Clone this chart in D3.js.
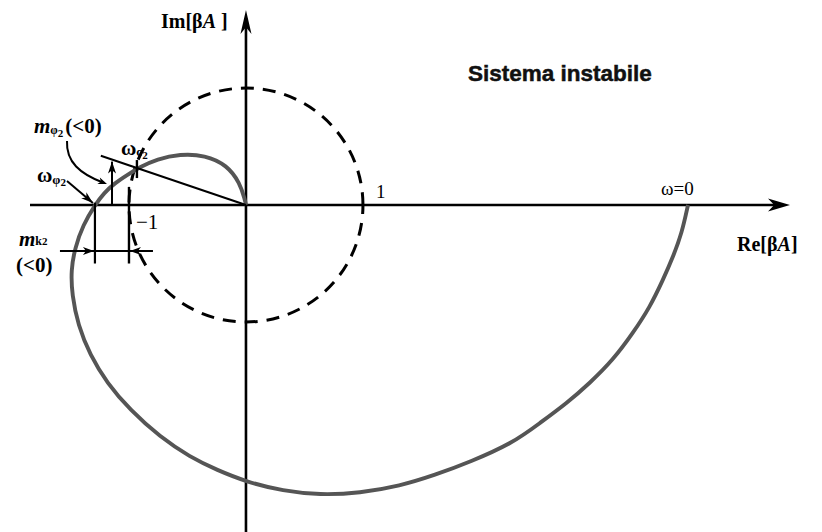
<!DOCTYPE html>
<html>
<head>
<meta charset="utf-8">
<script src="https://cdn.jsdelivr.net/npm/d3@7"></script>
<style>
  html, body { margin: 0; padding: 0; background: #fff; }
  svg { display: block; }
  .serif { font-family: "Liberation Serif", "Times New Roman", serif; font-weight: bold; fill: #000; }
</style>
</head>
<body>
<svg id="chart" width="822" height="532"></svg>
<script>
// Nyquist locus of βA(jω) for an unstable loop, in units of |βA|
const curveRe = [3.778, 3.726, 3.650, 3.564, 3.453, 3.308, 3.137, 2.940, 2.744, 2.513, 2.282, 1.915, 1.615, 1.316,
                 0.974, 0.632, 0.316, 0.009, -0.248, -0.479, -0.735, -0.991, -1.188, -1.333, -1.436, -1.487,
                 -1.496, -1.462, -1.393, -1.291, -1.214, -1.120, -1.017, -0.906, -0.761, -0.564, -0.350, -0.162,
                 -0.051, -0.009, 0.000];
const curveIm = [0.000, -0.239, -0.444, -0.641, -0.872, -1.094, -1.325, -1.521, -1.692, -1.863, -2.034, -2.197, -2.308, -2.402,
                 -2.462, -2.479, -2.444, -2.368, -2.265, -2.154, -1.983, -1.752, -1.521, -1.282, -1.026, -0.769,
                 -0.556, -0.368, -0.171, 0.000, 0.103, 0.188, 0.256, 0.325, 0.393, 0.436, 0.427, 0.342,
                 0.188, 0.043, 0.000];

// Unit circle |βA| = 1
const unitRadius = 1;

// Crossing points used by the margin construction
const omegaC2 = { re: -0.932, im: 0.316 };     // |βA| = 1 crossing
const omegaPhi2 = { re: -1.291, im: 0 };       // real-axis crossing
const minusOne = { re: -1, im: 0 };
const phaseLineRadius = 1.31;
const phaseArrowRe = -1.145;
const gainBarIm = -0.393;
const gainBarRe = [-1.59, -0.795];
const verticalSpanIm = { phi: [0.02, -0.5], one: [0.155, -0.5] };

// Axis extents
const reDomain = [-1.846, 4.65];
const imDomain = [1.667, -2.795];

const svg = d3.select("#chart");
const x = d3.scaleLinear().domain(reDomain).range([30, 790]);
const y = d3.scaleLinear().domain(imDomain).range([10, 532]);

// filled arrowhead with a notched back, tip at (tx, ty), pointing along angle a
function arrowHead(tx, ty, a, len, wid, fill) {
  const c = Math.cos(a), s = Math.sin(a);
  const pt = (u, v) => [tx + u * c - v * s, ty + u * s + v * c];
  const pts = [pt(0, 0), pt(-len, -wid / 2), pt(-len * 0.72, 0), pt(-len, wid / 2)];
  svg.append("path").attr("d", "M" + pts.map(p => p.join(",")).join("L") + "Z")
     .attr("fill", fill || "#000");
}
function arrowLine(x1, y1, x2, y2, w, len, wid) {
  svg.append("line").attr("x1", x1).attr("y1", y1).attr("x2", x2).attr("y2", y2)
     .attr("stroke", "#000").attr("stroke-width", w);
  arrowHead(x2, y2, Math.atan2(y2 - y1, x2 - x1), len, wid);
}

// axes
svg.append("line").attr("x1", x(reDomain[0])).attr("x2", x(reDomain[1]) - 8)
   .attr("y1", y(0)).attr("y2", y(0)).attr("stroke", "#000").attr("stroke-width", 2.6);
arrowHead(x(reDomain[1]), y(0), 0, 22, 13);
svg.append("line").attr("x1", x(0)).attr("x2", x(0))
   .attr("y1", y(imDomain[1])).attr("y2", y(imDomain[0]) + 8).attr("stroke", "#000").attr("stroke-width", 2.6);
arrowHead(x(0), y(imDomain[0]), -Math.PI / 2, 24, 11);

// unit circle, dashed
const rPix = x(unitRadius) - x(0);
svg.append("circle").attr("cx", x(0)).attr("cy", y(0)).attr("r", rPix)
   .attr("fill", "none").attr("stroke", "#000").attr("stroke-width", 3)
   .attr("stroke-dasharray", "13 9").attr("stroke-dashoffset", 4);

// Nyquist locus
const pts = curveRe.map((r, i) => [r, curveIm[i]]);
const line = d3.line().x(d => x(d[0])).y(d => y(d[1])).curve(d3.curveBasis);
svg.append("path").attr("d", line(pts)).attr("fill", "none")
   .attr("stroke", "#555").attr("stroke-width", 3.9).attr("stroke-linejoin", "round");

// phase line from origin through the ωc2 crossing
const ang = Math.atan2(omegaC2.im, omegaC2.re);
svg.append("line").attr("x1", x(0)).attr("y1", y(0))
   .attr("x2", x(phaseLineRadius * Math.cos(ang))).attr("y2", y(phaseLineRadius * Math.sin(ang)))
   .attr("stroke", "#000").attr("stroke-width", 2);
// tick on the ωc2 crossing
svg.append("line").attr("x1", x(omegaC2.re)).attr("x2", x(omegaC2.re))
   .attr("y1", y(omegaC2.im) - 8).attr("y2", y(omegaC2.im) + 10)
   .attr("stroke", "#000").attr("stroke-width", 2.4);

// phase-margin arrow
const phaseTopIm = -phaseArrowRe * Math.tan(Math.PI - ang);
arrowLine(x(phaseArrowRe), y(0), x(phaseArrowRe), y(phaseTopIm) + 2, 2, 12, 8);

// gain-margin construction
svg.append("line").attr("x1", x(omegaPhi2.re)).attr("x2", x(omegaPhi2.re))
   .attr("y1", y(verticalSpanIm.phi[0])).attr("y2", y(verticalSpanIm.phi[1]))
   .attr("stroke", "#000").attr("stroke-width", 2.2);
svg.append("line").attr("x1", x(minusOne.re)).attr("x2", x(minusOne.re))
   .attr("y1", y(verticalSpanIm.one[0])).attr("y2", y(verticalSpanIm.one[1]))
   .attr("stroke", "#000").attr("stroke-width", 2.4);
svg.append("line").attr("x1", x(gainBarRe[0])).attr("x2", x(gainBarRe[1]))
   .attr("y1", y(gainBarIm)).attr("y2", y(gainBarIm))
   .attr("stroke", "#000").attr("stroke-width", 2.2);
arrowHead(x(omegaPhi2.re) - 1, y(gainBarIm), 0, 11, 8);
arrowHead(x(minusOne.re) + 1, y(gainBarIm), Math.PI, 11, 8);

// pointer from ωφ2 label to the real-axis crossing
arrowLine(67, 181, x(omegaPhi2.re) - 2, y(omegaPhi2.im) - 2, 2, 12, 8);

// curved pointer from the mφ2 label
const curvy = d3.path();
curvy.moveTo(67, 141);
curvy.bezierCurveTo(66, 162, 80, 174, 104, 183);
svg.append("path").attr("d", curvy.toString()).attr("fill", "none")
   .attr("stroke", "#000").attr("stroke-width", 2);
arrowHead(107, 184, Math.atan2(9, 24), 9, 7);

// texts
function label(tx, ty, size, parts, opts) {
  const t = svg.append("text").attr("class", "serif").attr("x", tx).attr("y", ty)
     .attr("font-size", size);
  if (opts && opts.weight) t.style("font-weight", opts.weight);
  parts.forEach(p => {
    const s = t.append("tspan").text(p.t);
    if (p.italic) s.attr("font-style", "italic");
    if (p.size) s.attr("font-size", p.size);
    if (p.dy) s.attr("dy", p.dy);
    if (p.dx) s.attr("dx", p.dx);
  });
  return t;
}

label(161, 28, 20, [{ t: "Im[β" }, { t: "A", italic: true }, { t: " ]" }]);
label(737, 251, 20, [{ t: "Re[β" }, { t: "A", italic: true }, { t: "]" }]);
label(661, 195, 19, [{ t: "ω=0" }], { weight: "normal" });
label(376, 198, 19, [{ t: "1" }], { weight: "normal" });
label(136, 229, 21, [{ t: "−1" }], { weight: "normal" });

const ann = { weight: "bold" };
label(34, 133, 21, [{ t: "m", italic: true }, { t: "φ", size: 12, dy: 1 }, { t: "2", size: 11, dy: 3 },
                    { t: "(<0)", dy: -4, dx: 2 }], ann);
label(37, 182, 21, [{ t: "ω" }, { t: "φ", size: 13, dy: 2 }, { t: "2", size: 11, dy: 2 }], ann);
label(121, 155, 21, [{ t: "ω" }, { t: "c", size: 13, dy: 1 }, { t: "2", size: 11, dy: 3 }], ann);
label(19, 246, 21, [{ t: "m", italic: true }, { t: "k", size: 12, dy: -1 }, { t: "2", size: 11, dy: 0 }], ann);
label(16, 272, 21, [{ t: "(<0)" }], ann);

svg.append("text").attr("x", 468).attr("y", 81)
   .attr("font-family", "'Liberation Sans', Arial, sans-serif").attr("font-weight", "bold")
   .attr("font-size", 22.5).attr("fill", "#111").attr("stroke", "#111").attr("stroke-width", 0.5)
   .text("Sistema instabile");
</script>
</body>
</html>
